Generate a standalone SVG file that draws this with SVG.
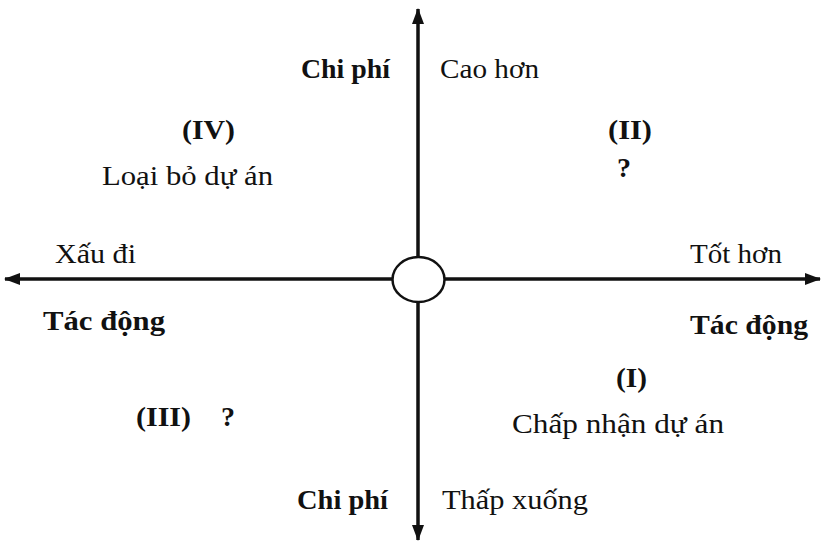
<svg xmlns="http://www.w3.org/2000/svg" width="821" height="542" viewBox="0 0 821 542">
<style>
text{font-family:"Liberation Serif","Times New Roman",serif;font-size:28px;fill:#111}
.b{font-weight:bold}
.ax{stroke:#111;stroke-width:3.5;fill:none}
</style>
<defs>
<marker id="ah" viewBox="0 0 16 12" refX="15" refY="6" markerWidth="16" markerHeight="12" markerUnits="userSpaceOnUse" orient="auto">
<path d="M0,0 L16,6 L0,12 z" fill="#111"/>
</marker>
</defs>
<rect width="821" height="542" fill="#fff"/>
<g id="connectors">
<line class="ax" x1="418" y1="256" x2="418" y2="9" marker-end="url(#ah)"/>
<line class="ax" x1="418" y1="302" x2="418" y2="540" marker-end="url(#ah)"/>
<line class="ax" x1="392" y1="279" x2="5" y2="279" marker-end="url(#ah)"/>
<line class="ax" x1="445" y1="279" x2="820" y2="279" marker-end="url(#ah)"/>
</g>
<g id="origin">
<ellipse cx="418.5" cy="279.5" rx="26" ry="22.5" fill="#fff" stroke="#111" stroke-width="2.5"/>
</g>
<g id="axis-labels">
<text class="b" x="301" y="78" textLength="89" lengthAdjust="spacingAndGlyphs">Chi phí</text>
<text x="440" y="78" textLength="99" lengthAdjust="spacingAndGlyphs">Cao hơn</text>
<text x="55" y="263" textLength="81" lengthAdjust="spacingAndGlyphs">Xấu đi</text>
<text x="690" y="263" textLength="92" lengthAdjust="spacingAndGlyphs">Tốt hơn</text>
<text class="b" x="43" y="330" textLength="122" lengthAdjust="spacingAndGlyphs">Tác động</text>
<text class="b" x="690" y="334" textLength="118" lengthAdjust="spacingAndGlyphs">Tác động</text>
<text class="b" x="297" y="509" textLength="91" lengthAdjust="spacingAndGlyphs">Chi phí</text>
<text x="442" y="509" textLength="146" lengthAdjust="spacingAndGlyphs">Thấp xuống</text>
</g>
<g id="q4">
<text class="b" x="182" y="139" textLength="53" lengthAdjust="spacingAndGlyphs">(IV)</text>
<text x="102" y="185" textLength="171" lengthAdjust="spacingAndGlyphs">Loại bỏ dự án</text>
</g>
<g id="q2">
<text class="b" x="608" y="139" textLength="44" lengthAdjust="spacingAndGlyphs">(II)</text>
<text class="b" x="617" y="177">?</text>
</g>
<g id="q1">
<text class="b" x="616" y="387" textLength="31" lengthAdjust="spacingAndGlyphs">(I)</text>
<text x="512" y="433" textLength="212" lengthAdjust="spacingAndGlyphs">Chấp nhận dự án</text>
</g>
<g id="q3">
<text class="b" x="136" y="426" textLength="55" lengthAdjust="spacingAndGlyphs">(III)</text>
<text class="b" x="221" y="426">?</text>
</g>
</svg>
